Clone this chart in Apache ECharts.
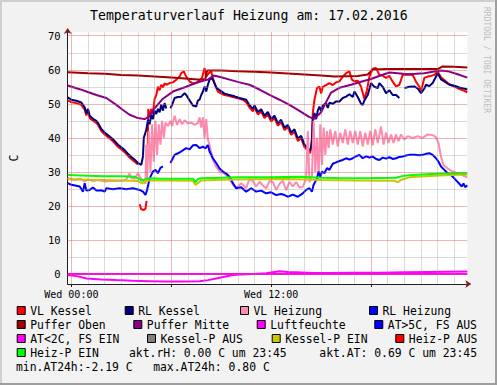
<!DOCTYPE html>
<html><head><meta charset="utf-8">
<script src="https://cdn.jsdelivr.net/npm/echarts@6/dist/echarts.min.js"></script>
<style>html,body{margin:0;padding:0;background:#F2F2F2}#c{width:497px;height:385px}</style>
</head><body><div id="c"></div><script>
// ---------- data (hours since 00:00, °C) ----------
const titleText = 'Temperaturverlauf Heizung am: 17.02.2016';
const xRange = [-0.22, 23.78];
const yRange = [-2.94, 71.1];
const yTickValues = [0, 10, 20, 30, 40, 50, 60, 70];
const xTickValues = [0, 12];
const xTickLabels = ['Wed 00:00', 'Wed 12:00'];
const xMajorTicks = [0, 6, 12, 18];

const vlKessel = [[-0.22,51.0],[0,50.5],[0.3,50.2],[0.6,49.7],[0.8,48.3],[0.9,46.6],[1.0,47.8],[1.1,45.8],[1.3,45.0],[1.5,44.4],[1.6,43.8],[1.8,42.0],[2.0,41.0],[2.3,39.8],[2.5,39.0],[2.8,37.4],[3.0,36.6],[3.2,35.8],[3.4,34.7],[3.6,33.8],[3.8,33.0],[4.0,32.2],[4.05,null],[4.1,20.5],[4.2,19.0],[4.35,18.8],[4.45,19.2],[4.52,21.5],[4.55,null],[4.58,34.0],[4.62,48.5],[4.7,46.0],[4.8,48.5],[4.9,47.0],[5.0,51.5],[5.1,52.5],[5.2,55.0],[5.3,54.0],[5.4,55.6],[5.5,54.8],[5.6,56.0],[5.7,55.6],[5.9,56.1],[6.1,56.3],[6.3,57.1],[6.5,58.0],[6.6,59.0],[6.75,59.5],[6.9,58.0],[7.0,57.3],[7.1,56.6],[7.3,56.0],[7.5,56.1],[7.7,57.0],[7.85,57.6],[8.0,60.5],[8.1,58.0],[8.25,59.0],[8.4,59.5],[8.5,57.5],[8.6,56.0],[8.8,53.6],[9.0,53.0],[9.2,52.6],[9.5,52.3],[9.7,52.0],[10.0,51.6],[10.3,51.2],[10.5,50.5],[10.7,48.9],[10.9,47.8],[11.0,48.8],[11.2,46.9],[11.4,47.7],[11.6,45.8],[11.8,46.9],[12.0,44.8],[12.2,45.8],[12.4,43.6],[12.6,44.6],[12.8,42.3],[13.0,43.1],[13.2,40.9],[13.4,41.8],[13.6,39.1],[13.8,39.9],[14.0,37.3],[14.2,36.3],[14.35,35.5],[14.45,40.0],[14.5,47.3],[14.6,51.2],[14.75,54.6],[14.9,55.1],[15.0,53.0],[15.1,55.0],[15.3,55.5],[15.5,56.1],[15.7,55.5],[15.9,56.3],[16.1,56.6],[16.3,58.0],[16.5,59.0],[16.7,59.5],[16.85,57.1],[17.0,56.6],[17.2,56.8],[17.4,55.0],[17.6,51.4],[17.75,54.0],[17.9,58.0],[18.1,60.3],[18.3,60.5],[18.5,58.5],[18.7,58.3],[18.9,57.6],[19.1,58.2],[19.3,56.5],[19.5,55.1],[19.7,55.6],[19.9,58.5],[20.2,58.6],[20.5,58.5],[20.7,56.5],[20.9,55.0],[21.0,53.8],[21.2,57.6],[21.4,58.0],[21.6,58.2],[21.8,58.5],[22.0,59.5],[22.2,57.8],[22.4,57.0],[22.6,56.1],[22.9,55.3],[23.2,54.6],[23.5,54.0],[23.78,53.4]];

const rlKessel = [[-0.22,51.9],[0,51.2],[0.3,50.9],[0.6,50.4],[0.8,49.0],[0.9,47.2],[1.0,48.5],[1.1,46.5],[1.3,45.6],[1.5,45.0],[1.6,44.4],[1.8,42.6],[2.0,41.6],[2.3,40.4],[2.5,39.6],[2.8,38.0],[3.0,37.2],[3.2,36.4],[3.4,35.3],[3.6,34.4],[3.8,33.6],[4.0,32.6],[4.2,32.1],[4.3,34.5],[4.35,40.0],[4.5,42.4],[4.6,45.3],[4.7,44.0],[4.8,46.8],[4.9,45.5],[5.0,48.0],[5.1,47.0],[5.2,48.5],[5.3,47.5],[5.4,49.8],[5.5,48.0],[5.6,50.2],[5.7,48.6],[5.8,null],[5.95,48.7],[6.05,49.7],[6.2,51.7],[6.4,52.0],[6.6,52.1],[6.8,53.1],[6.9,52.6],[7.1,51.0],[7.3,49.5],[7.5,49.2],[7.6,51.0],[7.7,51.2],[7.8,52.6],[7.9,53.6],[8.0,55.1],[8.1,53.6],[8.2,55.6],[8.3,57.1],[8.45,57.6],[8.6,56.0],[8.7,54.8],[8.9,54.0],[9.2,53.0],[9.5,52.6],[9.8,52.2],[10.1,51.7],[10.5,51.2],[10.7,49.6],[10.9,48.5],[11.0,49.5],[11.2,47.6],[11.4,48.4],[11.6,46.5],[11.8,47.6],[12.0,45.5],[12.2,46.5],[12.4,44.3],[12.6,45.3],[12.8,43.0],[13.0,43.8],[13.2,41.6],[13.4,42.5],[13.6,39.8],[13.8,40.6],[14.0,38.0],[14.2,37.0],[14.35,36.2],[14.45,38.5],[14.5,45.3],[14.6,47.3],[14.7,45.5],[14.8,48.0],[14.9,49.2],[15.0,47.8],[15.1,49.5],[15.3,50.2],[15.4,48.8],[15.5,50.3],[15.7,50.0],[15.9,50.7],[16.1,50.7],[16.3,51.7],[16.5,52.1],[16.7,52.8],[16.9,52.0],[17.0,53.6],[17.2,52.0],[17.4,50.0],[17.5,49.7],[17.6,51.0],[17.8,52.6],[18.0,56.1],[18.2,55.0],[18.4,54.6],[18.5,56.1],[18.7,55.0],[18.9,53.1],[19.1,54.0],[19.3,52.6],[19.5,52.6],[19.7,51.7],[19.8,null],[20.0,54.6],[20.3,55.0],[20.6,55.1],[20.8,54.5],[21.0,53.1],[21.2,54.5],[21.3,55.6],[21.5,55.2],[21.7,56.1],[21.85,57.5],[22.0,59.0],[22.2,57.2],[22.4,56.6],[22.7,55.6],[23.0,55.3],[23.3,54.8],[23.5,54.6],[23.78,54.2]];

const vlHeizung = [[-0.22,28.2],[0.2,27.6],[0.5,28.0],[0.8,27.2],[1.0,27.8],[1.3,27.3],[1.6,27.6],[2.0,27.2],[2.5,27.4],[3.0,27.3],[3.3,27.8],[3.5,29.5],[3.6,28.2],[3.8,28.0],[4.0,29.6],[4.1,28.5],[4.3,27.6],[4.45,26.5],[4.5,38],[4.55,27.5],[4.65,42],[4.75,30],[4.85,44],[4.95,33],[5.05,45],[5.15,35],[5.25,44],[5.35,38],[5.45,45],[5.55,40],[5.65,44.5],[5.8,43.5],[5.95,45.0],[6.05,43.5],[6.2,46.5],[6.35,43.8],[6.5,45.5],[6.65,44.0],[6.8,45.2],[7.0,44.2],[7.2,44.5],[7.4,43.8],[7.6,44.4],[7.7,46.0],[7.8,43.0],[7.9,46.0],[8.0,40.0],[8.1,45.5],[8.2,39.5],[8.35,37.0],[8.5,33.5],[8.7,31.5],[8.9,30.1],[9.2,29.5],[9.5,27.8],[9.7,26.2],[9.9,25.2],[10.2,26.7],[10.5,25.2],[10.7,28.0],[10.9,27.3],[11.1,25.7],[11.3,27.1],[11.5,26.0],[11.7,25.2],[11.9,27.3],[12.1,27.0],[12.3,24.7],[12.5,26.5],[12.7,27.4],[12.9,24.6],[13.1,27.1],[13.3,25.7],[13.5,27.0],[13.7,25.4],[13.9,25.6],[14.1,28.1],[14.2,42],[14.3,27],[14.45,29],[14.55,45],[14.65,30],[14.75,40],[14.85,29],[14.95,44],[15.05,32],[15.15,43],[15.25,35],[15.35,42],[15.45,37],[15.55,42.5],[15.7,38.0],[15.85,42.0],[16.0,37.5],[16.15,41.5],[16.3,38.5],[16.45,42.5],[16.6,38.0],[16.75,42.0],[16.9,38.5],[17.05,42.0],[17.2,38.0],[17.35,42.0],[17.5,37.5],[17.65,41.5],[17.8,38.0],[17.95,42.0],[18.1,37.8],[18.25,42.5],[18.4,38.5],[18.6,43.3],[18.75,38.0],[18.9,41.5],[19.05,38.5],[19.2,41.0],[19.35,38.5],[19.5,41.0],[19.65,39.0],[19.8,41.0],[20.0,39.5],[20.2,40.5],[20.5,40.0],[20.8,40.5],[21.1,40.0],[21.4,41.0],[21.7,40.8],[21.9,40.2],[22.05,38.5],[22.2,34.5],[22.35,32.0],[22.6,31.0],[22.9,30.1],[23.3,29.4],[23.6,28.8],[23.78,28.4]];

const rlHeizung = [[-0.22,26.7],[0,26.2],[0.3,25.9],[0.5,25.7],[0.7,24.2],[0.8,26.7],[0.9,24.5],[1.1,24.7],[1.3,25.4],[1.5,24.5],[1.8,24.6],[2.0,24.2],[2.1,25.2],[2.5,24.9],[2.9,25.2],[3.3,24.9],[3.7,25.2],[4.1,24.7],[4.3,24.2],[4.45,23.2],[4.55,24.7],[4.7,28.1],[4.9,30.1],[5.05,30.6],[5.2,29.6],[5.35,31.2],[5.5,31.6],[5.65,null],[5.95,32.6],[6.2,35.0],[6.5,35.7],[6.9,37.0],[7.1,36.6],[7.3,37.8],[7.5,37.9],[7.7,37.0],[7.9,37.4],[8.05,36.9],[8.2,37.9],[8.3,36.0],[8.5,34.0],[8.7,32.6],[8.9,31.0],[9.1,30.1],[9.3,29.5],[9.5,28.6],[9.7,26.7],[9.9,25.2],[10.2,25.5],[10.5,24.2],[10.8,25.2],[11.1,24.2],[11.4,24.5],[11.7,23.7],[12.0,24.0],[12.3,23.2],[12.6,23.5],[12.8,23.2],[13.0,22.7],[13.3,23.3],[13.6,22.7],[13.9,23.7],[14.1,24.7],[14.3,25.2],[14.45,24.2],[14.55,26.2],[14.75,28.1],[14.85,30.1],[14.95,28.5],[15.05,30.1],[15.2,29.6],[15.35,31.1],[15.5,30.6],[15.7,32.4],[15.9,32.8],[16.1,33.2],[16.3,33.5],[16.5,34.0],[16.7,33.6],[16.9,34.0],[17.1,34.6],[17.3,35.0],[17.5,34.0],[17.7,34.6],[17.9,34.2],[18.1,34.5],[18.3,33.8],[18.5,33.5],[18.7,34.2],[18.9,33.9],[19.1,34.3],[19.3,33.8],[19.5,34.0],[19.7,34.4],[19.9,34.5],[20.1,34.8],[20.3,35.0],[20.6,35.0],[20.9,34.9],[21.1,35.0],[21.3,35.3],[21.5,35.5],[21.7,35.0],[21.9,34.0],[22.05,33.0],[22.2,31.6],[22.4,30.6],[22.6,29.6],[22.8,29.1],[23.0,28.1],[23.15,27.3],[23.3,26.5],[23.45,25.7],[23.55,26.6],[23.65,25.5],[23.78,26.1]];

const pufferOben = [[-0.22,59.3],[1,59.0],[2,58.8],[3,58.5],[4,58.3],[5,58.0],[6,57.7],[7,57.4],[7.8,57.1],[8.05,57.3],[8.15,59.8],[9,59.8],[10,59.6],[11,59.4],[12,59.2],[13,58.9],[14,58.6],[15,58.3],[15.8,58.0],[16.5,58.1],[17.2,58.2],[17.8,58.6],[18.1,60.1],[19,60.2],[20,60.2],[21,60.2],[22,60.2],[22.3,61.0],[23,60.9],[23.78,60.7]];

const pufferMitte = [[-0.22,55.4],[0.5,54.3],[0.9,53.6],[1.5,52.6],[2.1,51.7],[2.7,49.7],[3.1,48.2],[3.5,46.8],[4.0,45.8],[4.4,45.5],[4.6,46.0],[5.0,48.7],[5.5,51.5],[6.1,53.6],[6.9,55.0],[7.5,56.2],[8.2,57.1],[8.55,58.3],[9.0,57.8],[9.5,57.1],[10.1,56.3],[10.7,55.6],[11.3,54.2],[11.9,52.6],[12.5,51.2],[13.1,49.7],[13.7,47.9],[14.3,46.1],[14.6,45.6],[15.0,47.5],[15.3,50.5],[15.6,53.3],[16.1,54.7],[16.8,55.6],[17.4,56.5],[18.0,57.3],[18.6,58.4],[19.1,59.2],[19.6,59.0],[20.2,58.7],[20.7,58.8],[21.2,59.0],[21.7,59.4],[22.2,59.8],[22.6,59.6],[23.2,58.7],[23.78,57.7]];

const luftfeuchte = [[-0.22,0.0],[6,0.0],[12,0.0],[18,0.0],[23.78,0.0]];
const atOver5 = [];
const atUnder2 = [[-0.22,-0.3],[0.4,-0.7],[0.9,-1.3],[1.8,-1.6],[2.7,-1.8],[3.7,-2.0],[4.7,-2.1],[5.7,-2.2],[6.7,-2.19],[7.7,-2.1],[8.2,-1.8],[8.7,-1.3],[9.2,-0.8],[9.7,-0.3],[10.5,-0.1],[11.2,0.1],[11.7,0.2],[12.2,0.6],[12.5,0.8],[13.0,0.6],[13.5,0.5],[14.5,0.3],[15.5,0.3],[17,0.4],[18.5,0.4],[20,0.5],[21.5,0.6],[22.5,0.65],[23.78,0.7]];
const kesselPAus = [];
const kesselPEin = [[-0.22,27.8],[1,27.7],[2,27.6],[3,27.5],[4.0,27.3],[4.25,26.6],[4.4,27.0],[4.6,27.5],[5.5,27.5],[7.3,27.4],[7.45,26.2],[7.6,26.7],[7.8,27.5],[9,27.7],[11,27.8],[13,27.9],[15,27.6],[17,27.5],[19.4,27.4],[19.6,27.0],[19.8,27.6],[20.3,28.4],[21.5,28.8],[22.5,29.0],[23.78,29.2]];
const heizPAus = [];
const heizPEin = [[-0.22,29.1],[1,28.9],[2,28.7],[3,28.7],[3.8,28.6],[4.0,28.1],[4.25,27.4],[4.4,27.8],[4.6,28.1],[5.5,28.0],[6.5,28.0],[7.3,28.0],[7.45,27.0],[7.6,27.9],[7.8,28.1],[8.5,28.2],[10,28.4],[12,28.4],[13.7,28.6],[15,28.3],[16,28.2],[17.6,28.1],[19.5,28.3],[20.0,28.9],[20.5,29.1],[21.6,29.4],[22.5,29.5],[23.78,29.6]];

const seriesNames = ['VL Kessel','RL Kessel','VL Heizung','RL Heizung','Puffer Oben','Puffer Mitte','Luftfeuchte','AT>5C, FS AUS','AT<2C, FS EIN','Kessel-P AUS','Kessel-P EIN','Heiz-P AUS','Heiz-P EIN'];
const seriesData = [vlKessel, rlKessel, vlHeizung, rlHeizung, pufferOben, pufferMitte, luftfeuchte, atOver5, atUnder2, kesselPAus, kesselPEin, heizPAus, heizPEin];
const seriesColors = ['#FF0000','#000080','#FF8AAE','#0000FF','#A00000','#880088','#FF00FF','#0000FF','#FF00FF','#808080','#C8C800','#FF0000','#00FF00'];

const aktRH = '0.00', aktAT = '0.69', minAT = '-2.19', maxAT = '0.80', aktTime = '23:45';

// ---------- layout ----------
const MONO = '"DejaVu Sans Mono"';
const legendPos = [
  [16.7,311],[124.7,311],[240,311],[369,311],
  [16.7,325],[133.3,325],[256.7,325],[374.3,325],
  [16.7,339],[147,339],[271.7,339],[395.3,339],
  [16.7,353]
];

const chart = echarts.init(document.getElementById('c'), null, {renderer:'svg', width:497, height:385});

const gridLines = [];
for (let h = 0; h <= 23; h++) {
  gridLines.push({xAxis: h, lineStyle: {color: h % 6 === 0 ? 'rgba(222,79,79,0.42)' : 'rgba(143,143,143,0.32)', width: 1, type: 'solid'}});
}
for (let v = 5; v <= 70; v += 5) {
  gridLines.push({yAxis: v, lineStyle: {color: v % 10 === 0 ? 'rgba(222,79,79,0.42)' : 'rgba(143,143,143,0.32)', width: 1, type: 'solid'}});
}
gridLines.push({yAxis: 0, lineStyle: {color: 'rgba(222,79,79,0.42)', width: 1, type: 'solid'}});

const series = [{
  name: '_grid', type: 'line', data: [], silent: true, z: 1,
  markLine: {silent: true, symbol: ['none','none'], label: {show: false}, animation: false,
    emphasis: {disabled: true}, data: gridLines}
}];
seriesNames.forEach((n, i) => {
  series.push({
    name: n, type: 'line', data: seriesData[i], showSymbol: false, symbol: 'none',
    connectNulls: false, z: 3 + i * 0.01, animation: false,
    itemStyle: {color: seriesColors[i]},
    lineStyle: {color: seriesColors[i], width: 2},
    emphasis: {disabled: true}
  });
});

const legends = seriesNames.map((n, i) => ({
  data: [n], left: legendPos[i][0], top: legendPos[i][1] - 6, padding: 0,
  itemWidth: 8, itemHeight: 8, icon: 'rect', selectedMode: false,
  itemStyle: {borderColor: '#000', borderWidth: 1},
  textStyle: {fontFamily: MONO, fontSize: 11.4, color: '#000'}
}));

const txt = (t, x, y, extra) => Object.assign({type: 'text', x: x, y: y, silent: true,
  style: {text: t, font: '11.4px ' + MONO, fill: '#000', textVerticalAlign: 'middle', textAlign: 'left'}}, extra || {});

chart.setOption({
  backgroundColor: '#F2F2F2',
  animation: false,
  title: {text: titleText, left: 90, top: 9, padding: 0,
    textStyle: {fontFamily: MONO, fontSize: 13.2, fontWeight: 'normal', color: '#000'}},
  grid: {left: 67.7, right: 29.7, top: 32, bottom: 101, show: true, backgroundColor: '#FFFFFF', borderWidth: 0},
  legend: legends,
  xAxis: [{
    type: 'value', min: xRange[0], max: xRange[1],
    splitLine: {show: false},
    axisLine: {show: true, onZero: false, lineStyle: {color: '#1f1f1f', width: 1}},
    axisTick: {show: true, customValues: xMajorTicks, length: 3, lineStyle: {color: '#1f1f1f'}},
    axisLabel: {customValues: xTickValues, margin: 5, fontFamily: MONO, fontSize: 10, color: '#000',
      formatter: v => xTickLabels[xTickValues.indexOf(v)] || ''}
  }, {
    type: 'value', min: xRange[0], max: xRange[1], position: 'bottom',
    splitLine: {show: false}, axisTick: {show: false}, axisLabel: {show: false},
    axisLine: {show: true, onZero: false, symbol: ['none','arrow'], symbolSize: [6, 6], symbolOffset: [0, 4],
      lineStyle: {color: '#801F1F', width: 0}}
  }],
  yAxis: [{
    type: 'value', min: yRange[0], max: yRange[1],
    name: 'C', nameLocation: 'middle', nameRotate: 90, nameGap: 48,
    nameTextStyle: {fontFamily: MONO, fontSize: 11.4, color: '#000'},
    splitLine: {show: false},
    axisLine: {show: true, onZero: false, lineStyle: {color: '#1f1f1f', width: 1}},
    axisTick: {show: false},
    axisLabel: {customValues: yTickValues, margin: 7, fontFamily: MONO, fontSize: 10.5, color: '#000'}
  }, {
    type: 'value', min: yRange[0], max: yRange[1], position: 'left',
    splitLine: {show: false}, axisTick: {show: false}, axisLabel: {show: false},
    axisLine: {show: true, onZero: false, symbol: ['none','arrow'], symbolSize: [6, 6], symbolOffset: [0, 4],
      lineStyle: {color: '#801F1F', width: 0}}
  }],
  series: series,
  graphic: [
    {type: 'rect', silent: true, shape: {x: 0, y: 0, width: 497, height: 2}, style: {fill: '#CFCFCF'}},
    {type: 'rect', silent: true, shape: {x: 0, y: 0, width: 2, height: 385}, style: {fill: '#CFCFCF'}},
    {type: 'rect', silent: true, shape: {x: 0, y: 383, width: 497, height: 2}, style: {fill: '#9E9E9E'}},
    {type: 'rect', silent: true, shape: {x: 495, y: 0, width: 2, height: 385}, style: {fill: '#9E9E9E'}},
    {type: 'text', silent: true, x: 486.7, y: 7, rotation: -Math.PI / 2,
      style: {text: 'RRDTOOL / TOBI OETIKER', font: '8px ' + MONO, fill: '#BDBDBD', textAlign: 'left', textVerticalAlign: 'middle'}},
    txt('akt.rH: ' + aktRH + ' C um ' + aktTime, 129, 353),
    txt('akt.AT: ' + aktAT + ' C um ' + aktTime, 319.3, 353),
    txt('min.AT24h:' + minAT + ' C   max.AT24h: ' + maxAT + ' C', 16, 367)
  ]
});
</script></body></html>
